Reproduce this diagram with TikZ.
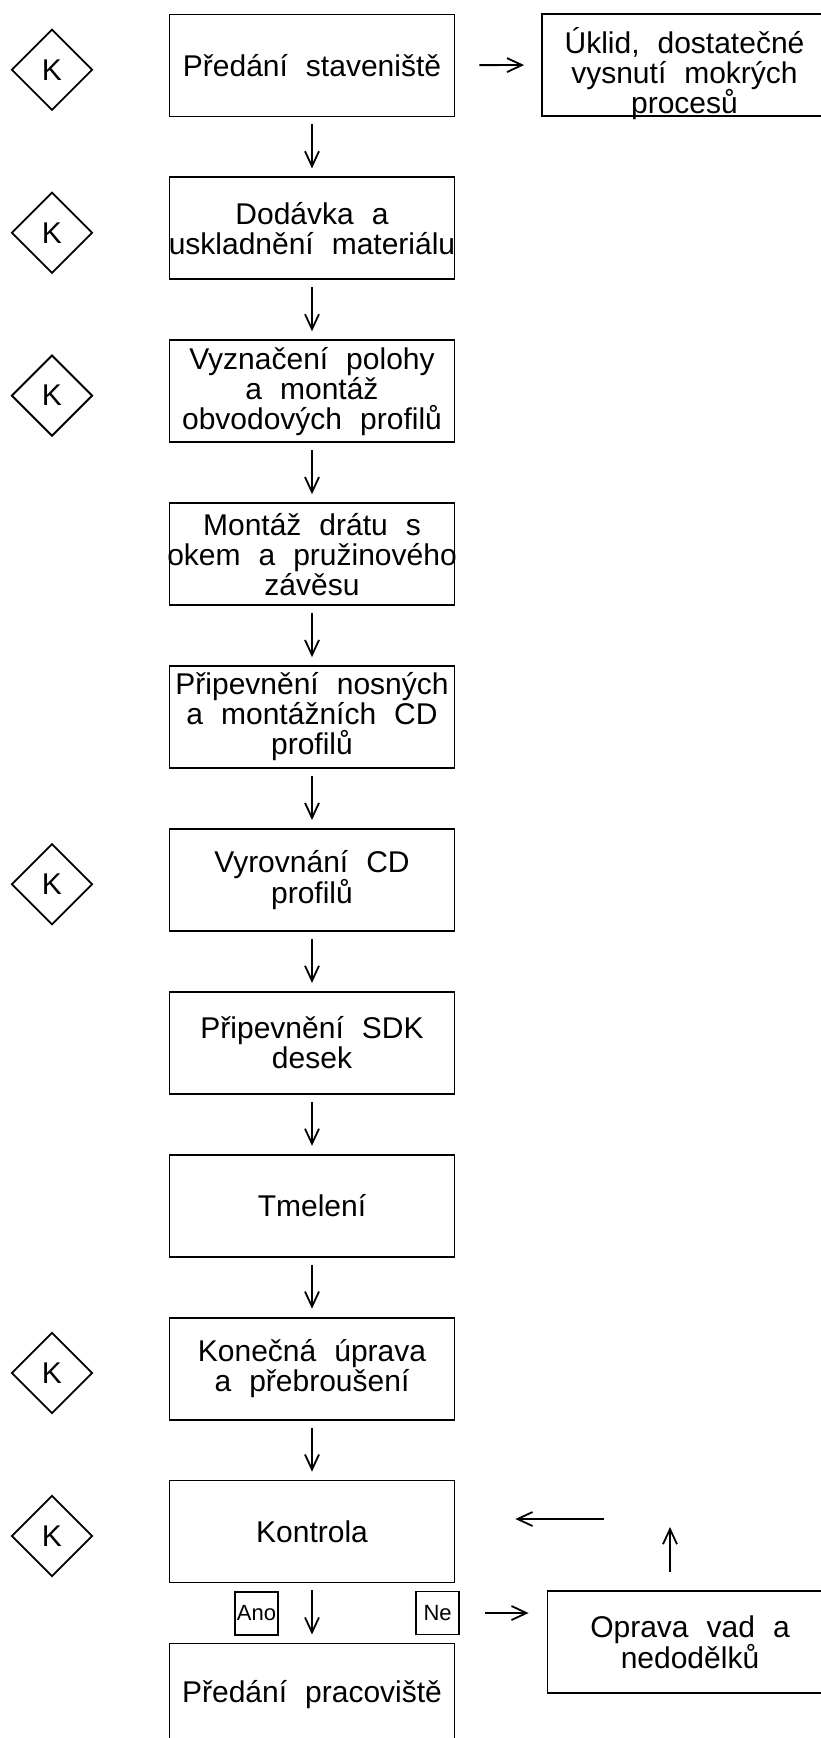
\documentclass[tikz,border=0pt]{standalone}
\usepackage{fontspec}
\setmainfont{Liberation Sans}
\usetikzlibrary{shapes.geometric, arrows.meta}
\newcommand{\krokfont}{\fontsize{30}{30}\selectfont\spaceskip=0.6em\relax}
\newcommand{\presah}[1]{\makebox[0pt]{#1}}
\tikzset{
  krok/.style={draw, line width=1.8pt, minimum width=285, minimum height=102,
    inner sep=0, align=center, font=\krokfont},
  kontrol/.style={draw, diamond, line width=1.8pt, minimum size=81, inner sep=0,
    font=\krokfont},
  answer/.style={draw, line width=1.8pt, minimum size=43, inner sep=0,
    font=\fontsize{22}{22}\selectfont},
  sipka/.style={->, line width=1.8pt, shorten <=7, shorten >=8}
}

\begin{document}
\begin{tikzpicture}[x=1pt, y=-1pt, >={Straight Barb[length=15pt,width=14pt]}]
\useasboundingbox (0,0) rectangle (821,1738);
\clip (0,0) rectangle (821,1738);

% hlavni postup
\node [krok] (s1) at (312,65.4) {Předání staveniště};
\node [krok] (s2) at (312,228.3) {Dodávka a\\\presah{uskladnění materiálu}};
\node [krok] (s3) at (312,391.2) {Vyznačení polohy\\a montáž\\obvodových profilů};
\node [krok] (s4) at (312,554.1) {Montáž drátu s\\\presah{okem a pružinového}\\závěsu};
\node [krok] (s5) at (312,717.0) {Připevnění nosných\\a montážních CD\\profilů};
\node [krok] (s6) at (312,879.9) {Vyrovnání CD\\profilů};
\node [krok] (s7) at (312,1042.8) {Připevnění SDK\\desek};
\node [krok] (s8) at (312,1205.7) {Tmelení};
\node [krok] (s9) at (312,1368.6) {Konečná úprava\\a přebroušení};
\node [krok] (s10) at (312,1531.5) {Kontrola};
\node [krok] (s11) at (312,1694.4) {Předání pracoviště};

\draw [sipka] (s1) -- (s2);
\draw [sipka] (s2) -- (s3);
\draw [sipka] (s3) -- (s4);
\draw [sipka] (s4) -- (s5);
\draw [sipka] (s5) -- (s6);
\draw [sipka] (s6) -- (s7);
\draw [sipka] (s7) -- (s8);
\draw [sipka] (s8) -- (s9);
\draw [sipka] (s9) -- (s10);
\draw [sipka] (s10) -- (s11);

% kontroly
\node [kontrol] (k1) at (52,69.8) {K};
\node [kontrol] (k2) at (52,232.7) {K};
\node [kontrol] (k3) at (52,395.6) {K};
\node [kontrol] (k6) at (52,884.3) {K};
\node [kontrol] (k9) at (52,1373.0) {K};
\node [kontrol] (k10) at (52,1535.9) {K};

% uklid
\node [krok] (uklid) at (684.5,64.8) {\rule{0pt}{38pt}Úklid, dostatečné\\vysnutí mokrých\\\smash{procesů}};
\draw [sipka, shorten <=24, shorten >=17] (s1) -- (uklid);

% vetveni po kontrole
\node [answer] (ano) at (256.5,1613.5) {Ano};
\node [answer] (ne) at (437.6,1613) {Ne};
\node [krok] (oprava) at (690,1642) {Oprava vad a\\nedodělků};
\draw [sipka, shorten <=25, shorten >=18] (ne.east) -- (ne.east -| oprava.west);

\coordinate (zpet) at (670,1519);
\draw [sipka, shorten <=18, shorten >=8] (oprava.north -| zpet) -- (zpet);
\draw [sipka, shorten <=66, shorten >=60] (zpet) -- (zpet -| s10.east);

\end{tikzpicture}
\end{document}
